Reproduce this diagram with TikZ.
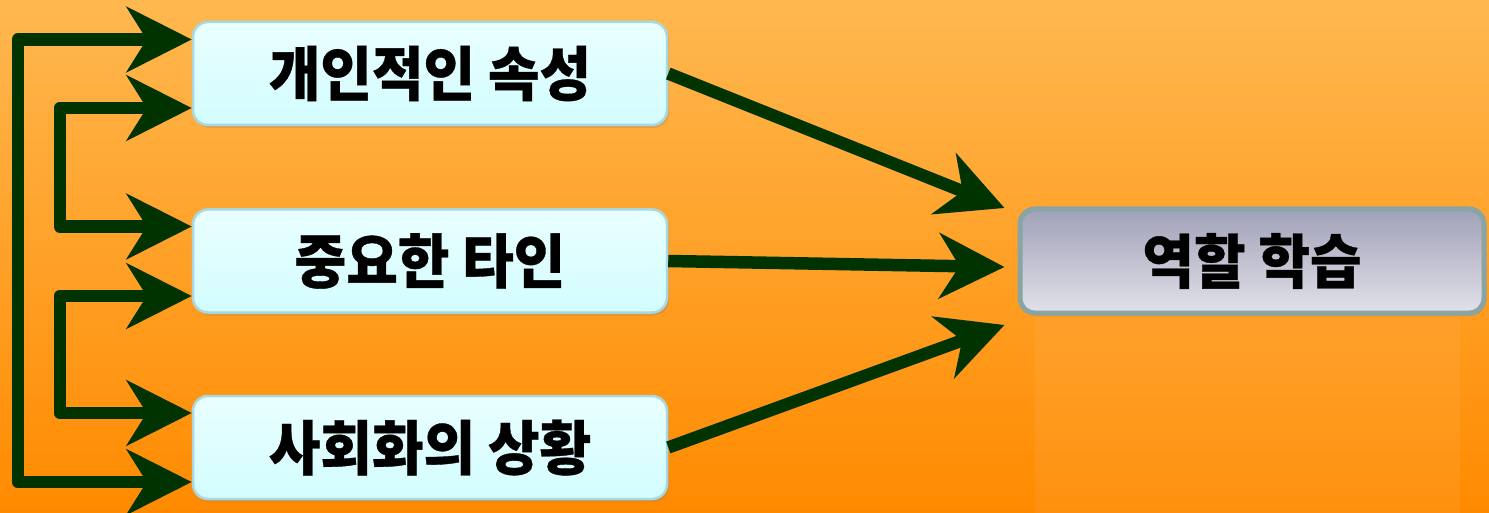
\documentclass[tikz,border=0pt]{standalone}
\usepackage{fontspec}
\newfontfamily\kr{Noto Sans CJK KR}[BoldFeatures={FakeBold=0.6, FakeStretch=0.95}]
\usetikzlibrary{arrows.meta,calc,shadows}
\definecolor{arrowgreen}{HTML}{003300}
\definecolor{bgtop}{HTML}{FFB850}
\definecolor{bgbot}{HTML}{FF8A00}
\definecolor{cyantop}{HTML}{EAFFFF}
\definecolor{cyanbot}{HTML}{D2FCFF}
\definecolor{cyanedge}{HTML}{A8D8E0}
\definecolor{graytop}{HTML}{A0A0B8}
\definecolor{graybot}{HTML}{E2E2EA}
\definecolor{grayedge}{HTML}{88A4A4}
\tikzset{
  srcbox/.style={rectangle, rounded corners=15pt, draw=cyanedge, line width=2.5pt,
    top color=cyantop, bottom color=cyanbot, minimum width=474pt, minimum height=103pt,
    inner sep=0pt, font=\kr\bfseries\fontsize{59}{62}\selectfont,
    drop shadow={opacity=0.25, shadow xshift=2pt, shadow yshift=-3pt}},
  dstbox/.style={rectangle, rounded corners=15pt, draw=grayedge, line width=5pt,
    top color=graytop, bottom color=graybot, minimum width=464pt, minimum height=104pt,
    inner sep=0pt, font=\kr\bfseries\fontsize{59}{62}\selectfont,
    drop shadow={opacity=0.2, shadow xshift=2pt, shadow yshift=-3pt}},
  conn/.style={draw=arrowgreen, line width=12.5pt, line join=round, -{Stealth[length=65pt, width=65pt, inset=20pt]}},
  bconn/.style={draw=arrowgreen, line width=12.5pt, line join=round, {Stealth[length=65pt, width=65pt, inset=20pt]}-{Stealth[length=65pt, width=65pt, inset=20pt]}}
}
\begin{document}
\begin{tikzpicture}[x=1pt,y=-1pt]
\shade[top color=bgtop, bottom color=bgbot] (0,0) rectangle (1489,513);
\useasboundingbox (0,0) rectangle (1489,513);
\fill[white, opacity=0.06] (1035,318) rectangle (1460,513);
\node[srcbox] (b1) at (430,73.5) {개인적인 속성};
\node[srcbox] (b2) at (430,261) {중요한 타인};
\node[srcbox] (b3) at (430,447.5) {사회화의 상황};
\node[dstbox] (r) at (1252,261) {역할 학습};
\draw[bconn] ($(b1.west)+(0,-34)$) -- ++(-174,0) |- ($(b3.west)+(0,34.5)$);
\draw[bconn] ($(b1.west)+(0,34.5)$) -- ++(-132,0) |- ($(b2.west)+(0,-34.5)$);
\draw[bconn] ($(b2.west)+(0,35)$) -- ++(-132,0) |- ($(b3.west)+(0,-34.5)$);
\draw[conn] (b1.east) -- ($(r.west)+(-13,-53)$);
\draw[conn] (b2.east) -- ($(r.west)+(-13,6)$);
\draw[conn] (b3.east) -- ($(r.west)+(-13,64)$);
\end{tikzpicture}
\end{document}
